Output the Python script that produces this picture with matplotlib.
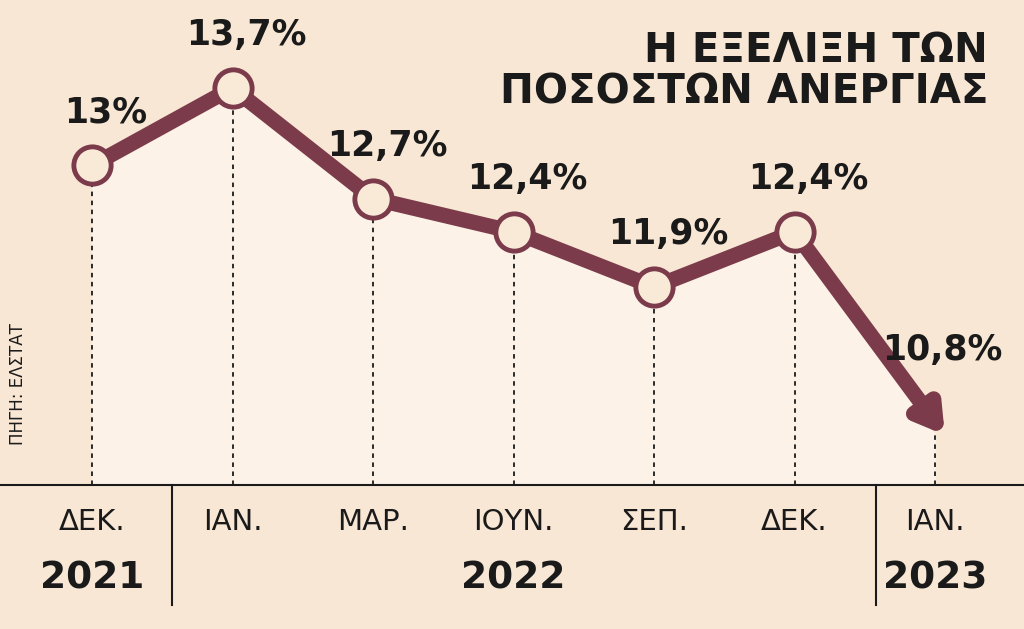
import matplotlib
matplotlib.use("Agg")
import matplotlib.pyplot as plt
import numpy as np

months = ["ΔΕΚ.", "ΙΑΝ.", "ΜΑΡ.", "ΙΟΥΝ.", "ΣΕΠ.", "ΔΕΚ.", "ΙΑΝ."]
values = [13.0, 13.7, 12.7, 12.4, 11.9, 12.4, 10.8]
labels = ["13%", "13,7%", "12,7%", "12,4%", "11,9%", "12,4%", "10,8%"]
years = ["2021", "2022", "2023"]

plt.rcParams['font.family'] = ['DejaVu Sans Condensed', 'DejaVu Sans']
BG = "#f8e7d4"; LINE = "#7b3b4b"; DARK = "#1a1a1a"

fig = plt.figure(figsize=(10.24, 6.29), dpi=100, facecolor=BG)
ax = fig.add_axes([0, 0, 1, 1])
ax.set_facecolor(BG)
ppu = 110.6
ytop = 13.7 + 88 / ppu
ybot = 13.7 - 541 / ppu
base = 13.7 - 397 / ppu
ax.set_ylim(ybot, ytop)
sp = 140.5
ax.set_xlim(-92 / sp, (1024 - 92) / sp)
ax.axis("off")

x = np.arange(len(values))
yv = np.array(values, dtype=float)
tip = 13.7 - (435 - 88) / ppu
ydraw = yv.copy(); ydraw[-1] = tip
ax.fill_between(x, ydraw, base, color="#fcf2e8", zorder=1)
for xi, yi in zip(x, ydraw):
    ax.plot([xi, xi], [base, yi], ls=(0, (2.5, 2.5)), color=DARK, lw=1.3, zorder=2)
ax.plot(x[:-1], ydraw[:-1], color=LINE, lw=11, solid_capstyle="round", zorder=3)
ax.annotate("", xy=(x[-1] + 0.07, tip), xytext=(x[-2], ydraw[-2]),
            arrowprops=dict(arrowstyle="-|>,head_length=1.5,head_width=0.9",
                            color=LINE, lw=11, shrinkA=0, shrinkB=0), zorder=3)
ax.scatter(x[:-1], ydraw[:-1], s=720, facecolor="#f9ead8", edgecolor=LINE, lw=3.5, zorder=4)

for i, (xi, yi, lb) in enumerate(zip(x, ydraw, labels)):
    if i == 6:
        ax.text(xi + 0.05, 13.7 - (350 - 88) / ppu, lb, ha="center", va="center",
                fontsize=25, fontweight="bold", color=DARK)
    else:
        ax.text(xi + 0.1, yi + 0.48, lb, ha="center", va="center",
                fontsize=25, fontweight="bold", color=DARK)

ax.axhline(base, color=DARK, lw=1.5)
for px in (172, 876):
    xx = (px - 92) / sp
    ax.plot([xx, xx], [base, 13.7 - (605 - 88) / ppu], color=DARK, lw=1.5)
ym = 13.7 - (522 - 88) / ppu
yy = 13.7 - (578 - 88) / ppu
for xi, m in zip(x, months):
    ax.text(xi, ym, m, ha="center", va="center", fontsize=21, color=DARK)
for xi, yr in zip([0, 3, 6], years):
    ax.text(xi, yy, yr, ha="center", va="center", fontsize=27, fontweight="bold", color=DARK)

fig.text(0.965, 0.95, "Η ΕΞΕΛΙΞΗ ΤΩΝ\nΠΟΣΟΣΤΩΝ ΑΝΕΡΓΙΑΣ", ha="right", va="top",
         fontsize=29, fontweight="bold", color=DARK, linespacing=1.05)
fig.text(0.018, 0.39, "ΠΗΓΗ: ΕΛΣΤΑΤ", rotation=90, ha="center", va="center",
         fontsize=12, color=DARK)
fig.savefig("out.png", dpi=100, facecolor=BG)
